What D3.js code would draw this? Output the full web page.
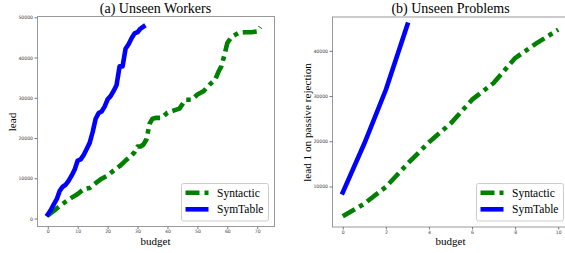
<!DOCTYPE html>
<html>
<head>
<meta charset="utf-8">
<script src="https://cdn.jsdelivr.net/npm/d3@7"></script>
<style>
  body { margin: 0; background: #fff; }
  svg { display: block; }
  .tick text { font-family: "DejaVu Sans", sans-serif; font-size: 4.6px; fill: #444; }
  .tick line { stroke: #777; }
  .domain { display: none; }
</style>
</head>
<body>
<svg width="565" height="253"></svg>
<script>

// (a) Unseen Workers
var workersSynBudget = [0, 2, 4, 6, 8, 10, 12, 14, 16, 18, 20, 22, 24, 26, 28, 29, 30, 31, 32, 33, 34, 35, 36, 38,
                        40, 42, 44, 46, 48, 50, 52, 54, 56, 57, 58, 59, 60, 61, 62, 64, 66, 68, 70, 71]
var workersSynLead   = [800, 1900, 3100, 4200, 5200, 6100, 7300, 7600, 8800, 9900, 10700, 11900, 13000, 14400,
                        15700, 16500, 17900, 17900, 18400, 19700, 23500, 24800, 25000, 25000, 26300, 26800,
                        27300, 29500, 29500, 30800, 31600, 33200, 34600, 36400, 37800, 40500, 43600, 44700,
                        45400, 46200, 46300, 46300, 46500, 47600]
var workersSymBudget = d3.range(0, 33)
var workersSymLead   = [1000, 2100, 3500, 4800, 6900, 7900, 8400, 9400, 10700, 12200, 14400, 14700, 15800,
                        17300, 18800, 21500, 24800, 26200, 26600, 27800, 29600, 30400, 31700, 33200, 37800,
                        37800, 42200, 43300, 44800, 46000, 46300, 47200, 47700]

// (b) Unseen Problems
var problemsSynBudget = [0, 1, 2, 3, 4, 5, 6, 7, 8, 9, 10]
var problemsSynLead   = [3400, 6200, 9900, 15000, 19800, 23900, 29200, 32900, 38400, 41700, 44700]
var problemsSymBudget = [0, 1, 2, 3]
var problemsSymLead   = [8700, 19500, 31400, 45800]

var workersXTicks = [0, 10, 20, 30, 40, 50, 60, 70]
var workersYTicks = [0, 10000, 20000, 30000, 40000, 50000]
var problemsXTicks = [0, 2, 4, 6, 8, 10]
var problemsYTicks = [10000, 20000, 30000, 40000]

var seriesNames = ["Syntactic", "SymTable"]
var colors = {Syntactic: "green", SymTable: "blue"}

var serif = '"Liberation Serif", "Times New Roman", serif'

function zip(xs, ys){
  return xs.map(function(x, i){ return {b: x, v: ys[i]}; });
}

var svg = d3.select("svg")

function panel(opt){
  var x = d3.scaleLinear().domain(opt.xDomain).range([opt.left, opt.left + 237]),
      y = d3.scaleLinear().domain(opt.yDomain).range([opt.top + 210.5, opt.top])

  var g = svg.append("g")

  // frame
  g.append("rect")
    .attr("x", opt.left + 0.5).attr("y", opt.top + 0.5)
    .attr("width", 237).attr("height", 210)
    .attr("fill", "none").attr("stroke", "#999").attr("stroke-width", 1)

  g.append("g")
    .attr("transform", "translate(0," + (opt.top + 210.5) + ")")
    .call(d3.axisBottom(x).tickValues(opt.xTicks).tickSize(2.5).tickPadding(0.8).tickFormat(d3.format("d")))

  g.append("g")
    .attr("transform", "translate(" + (opt.left + 0.5) + ",0)")
    .call(d3.axisLeft(y).tickValues(opt.yTicks).tickSize(3).tickPadding(1.5).tickFormat(d3.format("d")))

  var line = d3.line()
    .x(function(d){ return x(d.b); })
    .y(function(d){ return y(d.v); })

  g.append("path")
    .datum(opt.syn)
    .attr("d", line)
    .attr("fill", "none")
    .attr("stroke", colors.Syntactic)
    .attr("stroke-width", 4.6)
    .attr("stroke-dasharray", "14,5,4.5,5")
    .attr("stroke-linejoin", "round")

  g.append("path")
    .datum(opt.sym)
    .attr("d", line)
    .attr("fill", "none")
    .attr("stroke", colors.SymTable)
    .attr("stroke-width", 4.6)
    .attr("stroke-linecap", "square")
    .attr("stroke-linejoin", "round")

  // title and labels
  g.append("text")
    .attr("x", opt.left + 118.5).attr("y", 13)
    .attr("text-anchor", "middle")
    .style("font-family", serif).style("font-size", "14px")
    .text(opt.title)

  g.append("text")
    .attr("x", opt.left + 118.5).attr("y", 244.5)
    .attr("text-anchor", "middle")
    .style("font-family", serif).style("font-size", "11px")
    .text("budget")

  g.append("text")
    .attr("transform", "translate(" + opt.yLabelX + "," + (opt.top + 106) + ") rotate(-90)")
    .attr("text-anchor", "middle")
    .style("font-family", serif).style("font-size", "11.2px")
    .text(opt.yLabel)

  // legend
  var lg = g.append("g").attr("transform", "translate(" + opt.legendX + ",183)")
  lg.append("rect")
    .attr("x", 0.5).attr("y", 0.5).attr("width", 87).attr("height", 37.5)
    .attr("rx", 2).attr("fill", "#fff").attr("stroke", "#ccc")

  seriesNames.forEach(function(name, i){
    var yy = 9.8 + i * 16.5
    lg.append("line")
      .attr("x1", 4.5).attr("x2", 27.5).attr("y1", yy).attr("y2", yy)
      .attr("stroke", colors[name]).attr("stroke-width", 4.6)
      .attr("stroke-dasharray", name == "Syntactic" ? "14,5,4.5,5" : null)
    lg.append("text")
      .attr("x", 36).attr("y", yy + 3.8)
      .style("font-family", serif).style("font-size", "11.5px")
      .text(name)
  })
}

panel({
  left: 37, top: 16,
  xDomain: [-3.6, 75.6], yDomain: [-1980, 50320],
  xTicks: workersXTicks, yTicks: workersYTicks,
  syn: zip(workersSynBudget, workersSynLead),
  sym: zip(workersSymBudget, workersSymLead),
  title: "(a) Unseen Workers", yLabel: "lead", yLabelX: 15.5,
  legendX: 181
})

panel({
  left: 332, top: 16.5,
  xDomain: [-0.5, 10.5], yDomain: [1040, 47600],
  xTicks: problemsXTicks, yTicks: problemsYTicks,
  syn: zip(problemsSynBudget, problemsSynLead),
  sym: zip(problemsSymBudget, problemsSymLead),
  title: "(b) Unseen Problems", yLabel: "lead 1 on passive rejection", yLabelX: 311,
  legendX: 476
})

</script>
</body>
</html>
